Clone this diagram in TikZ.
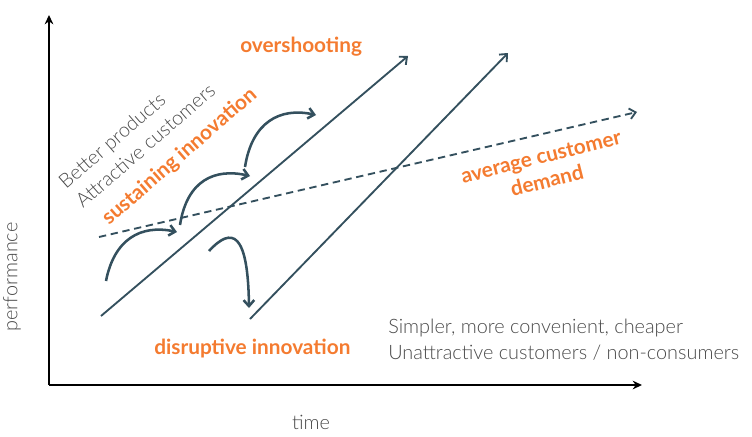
\documentclass[tikz,border=0pt]{standalone}
\usepackage{fontspec}
\setmainfont{Lato}
\newfontfamily\lightfont{Lato Light}
\usetikzlibrary{arrows.meta}
\definecolor{slate}{HTML}{34505E}
\definecolor{orng}{HTML}{F47B30}
\definecolor{txtgray}{HTML}{4A4A4A}
\begin{document}
\begin{tikzpicture}[x=0.75pt,y=-0.75pt,
 axis/.style={line width=1.8pt, -{Stealth[length=7pt,width=6.5pt]}},
 trend/.style={slate, line width=1.4pt, -{Straight Barb[length=4.5pt,width=8pt]}},
 curvy/.style={slate, line width=1.9pt, -{Straight Barb[length=4.5pt,width=8pt]}},
 demandline/.style={slate, line width=1.4pt, dash pattern=on 5.5pt off 3.5pt, -{Straight Barb[length=4.5pt,width=8pt]}},
 hot/.style={orng, font=\bfseries\fontsize{15.6}{18.5}\selectfont, inner sep=0pt},
 note/.style={txtgray, font=\lightfont\fontsize{14.9}{19.5}\selectfont, inner sep=0pt}]
\useasboundingbox (0,0) rectangle (752,436);
% axes
\coordinate (O) at (49,385);
\coordinate (Ytop) at (49,15);
\coordinate (Xend) at (642,385);
\draw[axis] (O) -- (Ytop);
\draw[axis] (O) -- (Xend);
% labels
\node[note, rotate=90] (perf) at (12,277) {performance};
\node[note] (time) at (311,422) {time};
\node[hot, anchor=base west] (over) at (240,52) {overshooting};
\node[hot, anchor=base west] (disr) at (154,354) {disruptive innovation};
\node[note, anchor=west, align=left] (simpler) at (388,340) {Simpler, more convenient, cheaper\\Unattractive customers / non-consumers};
\node[hot, rotate=14, align=center] (avg) at (544,169) {average customer\\demand};
\node[note, rotate=41, anchor=base west] (better) at (66,190) {Better products};
\node[note, rotate=41, anchor=base west] (attr) at (83,209) {Attractive customers};
\node[hot, rotate=41, anchor=base west] (sust) at (109,226) {sustaining innovation};
% trend lines
\coordinate (s1) at (101,316); \coordinate (e1) at (408,56);
\coordinate (s2) at (250,319); \coordinate (e2) at (508,53);
\coordinate (d1) at (99,237);  \coordinate (d2) at (637,112);
\draw[trend] (s1) -- (e1);
\draw[trend] (s2) -- (e2);
\draw[demandline] (d1) -- (d2);
% sustaining and disruptive curves
\coordinate (c1s) at (106,281); \coordinate (c1e) at (177,232);
\coordinate (c2s) at (180,225); \coordinate (c2e) at (250,176);
\coordinate (c3s) at (245,167); \coordinate (c3e) at (316,115);
\coordinate (c4s) at (209,251); \coordinate (c4e) at (249,308);
\draw[curvy] (c1s) .. controls (114,240) and (140,224) .. (c1e);
\draw[curvy] (c2s) .. controls (187,180) and (215,168) .. (c2e);
\draw[curvy] (c3s) .. controls (252,122) and (280,107) .. (c3e);
\draw[curvy] (c4s) .. controls (232,226) and (248,232) .. (c4e);
\end{tikzpicture}
\end{document}
